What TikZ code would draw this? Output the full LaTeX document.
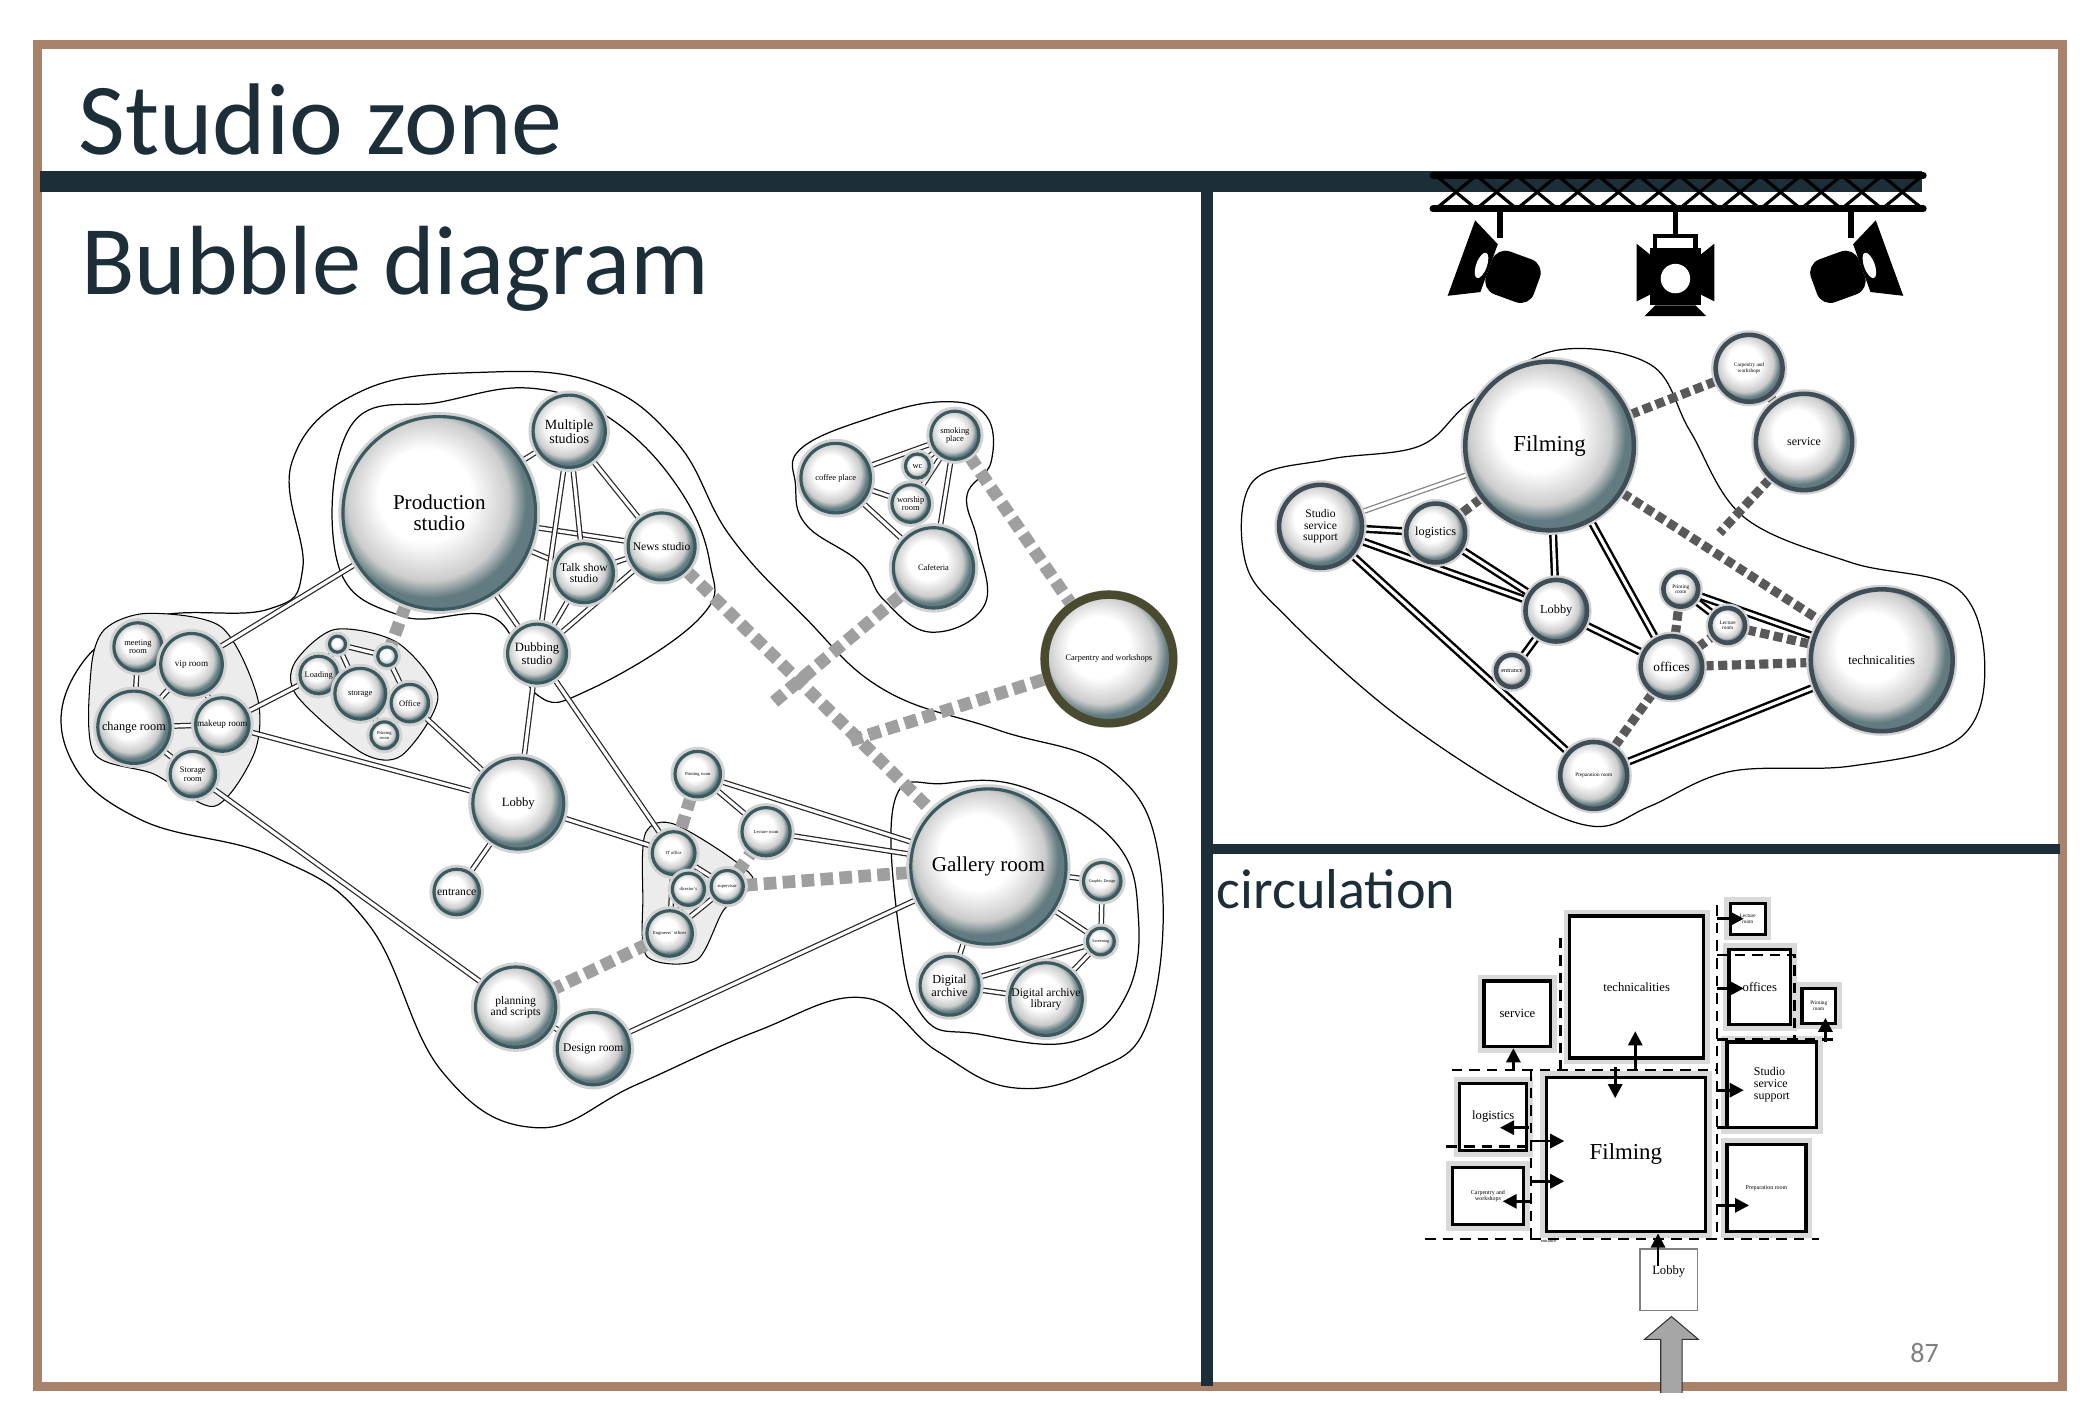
\documentclass[tikz,border=0pt]{standalone}
\usepackage{fontspec}
\setmainfont{Liberation Serif}
\newfontfamily\tit{Carlito}
\usetikzlibrary{backgrounds,arrows.meta}
\definecolor{frame}{HTML}{A8826A}
\definecolor{dk}{HTML}{1C2E38}
\definecolor{bord}{HTML}{3A5A60}
\definecolor{outc}{HTML}{8D9DA2}
\definecolor{olive}{HTML}{4A4A30}
\pgfdeclareradialshading{bubsh}{\pgfpoint{-5bp}{6bp}}{color(0bp)=(white); color(12bp)=(white); color(21bp)=(gray!40); color(25bp)=(bord!80); color(50bp)=(bord!80)}
\newcommand\fs[1]{\fontsize{#1}{#1}\selectfont}
% name, x, y, r, fontsize, text
\newcommand\bub[6]{\node[bub,minimum size={#4*0.02678cm},font=\fs{#5}] (#1) at (#2,#3) {#6};}
\newcommand\bubr[6]{\node[bubR,minimum size={#4*0.02678cm},font=\fs{#5}] (#1) at (#2,#3) {#6};}
\newcommand\spotside[3]{\begin{scope}[shift={(#1,#2)},rotate=#3]
 \fill[black,rounded corners=4] (-14,-17) rectangle (24,17);
 \fill[black] (-14,-19) -- (-36,-30) -- (-36,30) -- (-14,19) -- cycle;
 \fill[white] (-20,0) ellipse (4 and 10);
 \end{scope}}
\tikzset{
 bub/.style={circle,inner sep=0pt,align=center,draw=bord,line width=0.9pt,
   shading=bubsh,
   preaction={draw=gray!35,line width=2.6pt}},
 bubR/.style={bub,draw=dk!85,line width=1.3pt},
 dl/.style={draw=black!85,line width=0.35pt,double=white,double distance=0.9pt},
 dlR/.style={draw=black,line width=0.7pt,double=white,double distance=0.9pt},
 dsh/.style={draw=gray!75,line width=3.6pt,dash pattern=on 3.6pt off 1.8pt},
 dshR/.style={draw=black!65,line width=2.6pt,dash pattern=on 2.6pt off 1.3pt},
 cont/.style={draw=black,line width=0.35pt},
 bx/.style={draw=black,line width=0.9pt,fill=white,inner sep=0pt,align=center,
   preaction={draw=gray!30,line width=3.5pt}},
 dsl/.style={draw=black,line width=0.7pt,dash pattern=on 3pt off 2pt},
 ar/.style={-{Triangle[length=4pt,width=4pt]},line width=0.8pt},
}
\begin{document}
\begin{tikzpicture}[x=0.01339cm,y=-0.01339cm]
\useasboundingbox (0,0) rectangle (1568,1059);
\draw[frame,line width=2.6pt] (28,33) rectangle (1540,1035);
\node[anchor=base west,font=\tit\fs{29},text=dk,inner sep=0] (t1) at (58,115) {Studio zone};
\node[anchor=base west,font=\tit\fs{28},text=dk,inner sep=0] (t2) at (60,220) {Bubble diagram};
\node[anchor=base west,font=\tit\fs{16},text=dk,inner sep=0] (t3) at (908,678) {circulation};
\node[anchor=base,font=\tit\fs{8},text=gray,inner sep=0] (pg) at (1437,1017) {87};
\fill[dk] (30,128) rectangle (1435,143);
\fill[dk] (897,143) rectangle (906,1035);
\fill[dk] (906,630) rectangle (1538,638);
% truss
\foreach \i in {0,...,11}{\draw[black,line width=0.9pt] (1072+\i*30.3,131) -- (1102.3+\i*30.3,156) (1072+\i*30.3,156) -- (1102.3+\i*30.3,131);}
\draw[black,line width=2pt,line cap=round] (1070,131) -- (1436,131) (1070,156) -- (1436,156);
% lights
\foreach \x in {1120,1251,1382}{\draw[line width=1.6pt] (\x,156) -- (\x,178);}
\spotside{1125}{205}{-20}
\spotside{1377}{205}{200}
\fill[black] (1232,185) rectangle (1270,228);
\fill[black] (1232,190) -- (1222,182) -- (1222,225) -- (1232,220) -- cycle;
\fill[black] (1270,190) -- (1280,182) -- (1280,225) -- (1270,220) -- cycle;
\fill[black] (1236,228) -- (1228,236) -- (1274,236) -- (1266,228) -- cycle;
\draw[black,line width=1.2pt] (1236,186) -- (1236,176) -- (1266,176) -- (1266,186);
\fill[white] (1251,208) circle (11);

% ================= LEFT BUBBLES
\bub{prod}{328}{383}{72}{6}{Production\\studio}
\bub{mult}{425}{322}{27}{4}{Multiple\\studios}
\bub{news}{494}{408}{25}{3.3}{News studio}
\bub{talk}{436}{428}{22}{3.3}{Talk show\\studio}
\bub{dub}{401}{488}{22}{3.6}{Dubbing\\studio}
\bub{lobby}{387}{600}{34}{3.6}{Lobby}
\bub{ent}{341}{666}{17}{3.3}{entrance}
\bub{plan}{385}{752}{30}{3.3}{planning\\and scripts}
\bub{design}{443}{783}{27}{3.3}{Design room}
\bub{gal}{738}{647}{58}{6}{Gallery room}
\bub{graph}{823}{658}{14}{1.2}{Graphic Design}
\bub{scr}{822}{703}{10}{1.2}{Screening}
\bub{darch}{709}{736}{22}{3.5}{Digital\\archive}
\bub{dlib}{781}{746}{26}{3.3}{Digital archive\\library}
\bub{print}{521}{578}{17}{1.3}{Printing room}
\bub{lect}{572}{621}{18}{1.3}{Lecture room}
\bub{it}{503}{637}{16}{1.3}{IT office}
\bub{dir}{514}{664}{12}{1.3}{director's}
\bub{sup}{543}{662}{12}{1.3}{supervisor}
\bub{eng}{500}{697}{17}{1.3}{Engineers' offices}
\bub{coffee}{624}{357}{26}{2.4}{coffee place}
\bub{smoke}{713}{325}{18}{2.4}{smoking\\place}
\bub{wc}{685}{348}{9}{2.4}{wc}
\bub{wor}{680}{376}{14}{2.4}{worship\\room}
\bub{caf}{697}{424}{30}{2.4}{Cafeteria}
\node[bub,draw=olive,line width=2.4pt,minimum size={48*0.02678cm},font=\fs{2.4}] (carp) at (828,492) {Carpentry and workshops};
\bub{meet}{103}{483}{18}{2.4}{meeting\\room}
\bub{vip}{143}{496}{23}{2.6}{vip room}
\bub{chg}{100}{543}{27}{3.5}{change room}
\bub{mk}{166}{541}{20}{2.6}{makeup room}
\bub{stor}{144}{578}{17}{2.4}{Storage\\room}
\bub{load}{238}{504}{14}{2.4}{Loading}
\bub{sto}{269}{518}{19}{2.4}{storage}
\bub{off}{306}{525}{14}{2.4}{Office}
\bub{prs}{287}{549}{10}{1.3}{Printing\\room}
\bub{tA}{252}{481}{6}{1}{}
\bub{tB}{289}{490}{7}{1}{}

% ================= RIGHT BUBBLES
\bubr{film}{1157}{333}{63}{6.5}{Filming}
\bubr{serv}{1347}{330}{36}{3.4}{service}
\bubr{rcarp}{1306}{275}{25}{1.5}{Carpentry and\\workshops}
\bubr{ssup}{986}{393}{31}{3.3}{Studio\\service\\support}
\bubr{log}{1072}{398}{22}{3.5}{logistics}
\bubr{rlob}{1162}{456}{23}{3.5}{Lobby}
\bubr{rent}{1129}{501}{12}{1.8}{entrance}
\bubr{roff}{1248}{498}{23}{3.8}{offices}
\bubr{rprt}{1255}{440}{13}{1.5}{Printing\\room}
\bubr{rlec}{1290}{467}{13}{1.5}{Lecture\\room}
\bubr{tech}{1405}{493}{53}{3.6}{technicalities}
\bubr{prep}{1190}{579}{25}{1.5}{Preparation room}

\coordinate (cafE) at (578,524);
\coordinate (carpE) at (635,553);
\coordinate (servE) at (1284,398);

\begin{scope}[on background layer]
% contours
\draw[cont] plot[smooth cycle,tension=0.7] coordinates {(55,505) (110,462) (200,455) (226,425) (218,345) (270,292) (360,278) (445,286) (505,330) (545,400) (600,460) (660,515) (745,545) (830,575) (866,645) (858,760) (815,800) (755,812) (700,785) (645,745) (565,770) (475,810) (400,842) (330,800) (275,690) (205,640) (105,612) (52,565)};
\draw[cont] plot[smooth cycle,tension=0.7] coordinates {(262,318) (330,300) (398,290) (455,312) (505,362) (530,420) (522,462) (440,515) (400,518) (370,462) (300,460) (252,420)};
\draw[cont] plot[smooth cycle,tension=0.7] coordinates {(668,598) (705,585) (765,588) (832,628) (850,685) (840,745) (800,778) (730,772) (690,760) (672,700)};
\draw[cont] plot[smooth cycle,tension=0.7] coordinates {(598,335) (650,312) (703,300) (736,310) (740,345) (722,370) (730,405) (735,452) (695,472) (660,448) (642,420) (602,392) (594,362)};
\draw[cont] plot[smooth cycle,tension=0.6] coordinates {(935,360) (992,343) (1060,333) (1098,300) (1160,262) (1232,272) (1262,322) (1302,386) (1382,420) (1462,440) (1482,500) (1462,552) (1382,572) (1292,576) (1232,602) (1190,617) (1130,592) (1040,532) (962,462) (930,420)};
% halos around clusters
\filldraw[fill=gray!15,draw=black,line width=0.3pt] plot[smooth cycle] coordinates {(78,470) (110,458) (165,468) (192,520) (190,562) (160,602) (115,578) (70,562) (68,500)};
\filldraw[fill=gray!15,draw=black,line width=0.3pt] plot[smooth cycle] coordinates {(220,495) (250,470) (297,480) (327,520) (300,564) (270,562) (222,520)};
\filldraw[fill=gray!15,draw=black,line width=0.3pt] plot[smooth cycle] coordinates {(482,622) (505,616) (562,655) (540,680) (520,717) (483,714) (480,670)};
% left double lines
\foreach \a/\b in {prod/mult,prod/news,prod/talk,prod/dub,mult/talk,mult/dub,mult/news,talk/news,talk/dub,news/dub,
 vip/prod,mk/load,mk/lobby,stor/plan,lobby/dub,lobby/ent,lobby/it,off/lobby,dub/it,design/gal,print/gal,lect/gal,
 gal/graph,gal/scr,gal/darch,graph/scr,darch/dlib,darch/scr,dlib/scr,it/dir,it/sup,it/eng,dir/eng,sup/eng,dir/sup,
 print/lect,meet/vip,meet/chg,vip/chg,vip/mk,chg/mk,chg/stor,mk/stor,load/sto,sto/off,sto/prs,off/prs,tA/load,tA/tB,
 tB/off,tA/sto,plan/design,coffee/smoke,coffee/wor,coffee/caf,wc/smoke,wor/wc,wor/smoke,smoke/caf}
 {\draw[dl] (\a) -- (\b);}
% left dashed
\draw[dsh] (prod) -- (tB);
\draw[dsh] (news) -- (gal);
\draw[dsh] (cafE) -- (caf);
\draw[dsh] (smoke) -- (carp);
\draw[dsh] (carpE) -- (carp);
\draw[dsh] (sup) -- (gal);
\draw[dsh] (print) -- (it);
\draw[dsh] (eng) -- (plan);
\draw[dsh] (sup) -- (lect);
% right lines
\foreach \a/\b in {ssup/log,ssup/rlob,ssup/prep,log/rlob,film/rlob,film/roff,rlob/roff,rlob/rent,rprt/tech,rprt/rlec,tech/prep}
 {\draw[dlR] (\a) -- (\b);}
\draw[dl,draw=gray] (ssup) -- (film);
\draw[dshR] (film) -- (log);
\draw[dshR] (film) -- (tech);
\draw[dshR] (film) -- (rcarp);
\draw[dshR] (rcarp) -- (serv);
\draw[dshR] (serv) -- (servE);
\draw[dshR] (roff) -- (rprt);
\draw[dshR] (roff) -- (rlec);
\draw[dshR] (rlec) -- (tech);
\draw[dshR] (roff) -- (tech);
\draw[dshR] (roff) -- (prep);
\end{scope}

% ================= CIRCULATION
\node[bx,minimum width={100*0.01339cm},minimum height={106*0.01339cm},font=\fs{3.6}] (ctech) at (1222,737) {technicalities};
\node[bx,minimum width={50*0.01339cm},minimum height={49*0.01339cm},font=\fs{3.6}] (cserv) at (1133,757) {service};
\node[bx,minimum width={46*0.01339cm},minimum height={56*0.01339cm},font=\fs{3.6}] (coff) at (1314,737) {offices};
\node[bx,minimum width={26*0.01339cm},minimum height={23*0.01339cm},font=\fs{1.5}] (clec) at (1305,686) {Lecture\\room};
\node[bx,minimum width={25*0.01339cm},minimum height={26*0.01339cm},font=\fs{1.5}] (cprt) at (1358,751) {Printing\\room};
\node[bx,minimum width={67*0.01339cm},minimum height={64*0.01339cm},font=\fs{3.4},align=left] (cssup) at (1323,810) {Studio\\service\\support};
\node[bx,minimum width={50*0.01339cm},minimum height={50*0.01339cm},font=\fs{3.6}] (clog) at (1115,834) {logistics};
\node[bx,minimum width={119*0.01339cm},minimum height={115*0.01339cm},font=\fs{6.5}] (cfilm) at (1214,862) {Filming};
\node[bx,minimum width={53*0.01339cm},minimum height={43*0.01339cm},font=\fs{1.7}] (ccarp) at (1111,893) {Carpentry and\\workshops};
\node[bx,minimum width={59*0.01339cm},minimum height={65*0.01339cm},font=\fs{1.7}] (cprep) at (1319,887) {Preparation room};
\node[draw=gray,line width=0.4pt,fill=white,minimum width={43*0.01339cm},minimum height={46*0.01339cm},inner sep=0,font=\fs{3.6},anchor=north] (clob) at (1246,932) {};
\node[font=\fs{3.6},inner sep=0] (clobt) at (1246,949) {Lobby};
\node[font=\fs{1.3},inner sep=0,anchor=west] (centr) at (1150,927) {entrance};
% dashed zone lines
\draw[dsl] (1084,799) -- (1283,799);
\draw[dsl] (1143,799) -- (1143,925);
\draw[dsl] (1064,925) -- (1358,925);
\draw[dsl] (1282,676) -- (1282,925);
\draw[dsl] (1165,700) -- (1165,799);
\draw[dsl] (1080,856) -- (1143,856);
\draw[dsl] (1282,713) -- (1340,713) -- (1340,776);
\draw[dsl] (1282,776) -- (1373,776);
\draw[dsl] (1282,842) -- (1357,842);
% arrows
\coordinate (a1) at (1130,799); \draw[ar] (a1) -- (cserv.south -| a1);
\coordinate (a2) at (1221,799); \draw[ar] (a2) -- (1221,770);
\coordinate (a3) at (1206,797); \draw[ar] (a3) -- (1206,820);
\coordinate (a4) at (1142,842); \draw[ar] (a4) -- (1120,842);
\coordinate (a5) at (1143,852); \draw[ar] (a5) -- (1168,852);
\coordinate (a6) at (1143,882); \draw[ar] (a6) -- (1168,882);
\coordinate (a7) at (1143,897); \draw[ar] (a7) -- (1122,897);
\coordinate (a8) at (1238,945); \draw[ar] (a8) -- (1238,921);
\coordinate (a9) at (1282,814); \draw[ar] (a9) -- (1302,814);
\coordinate (a10) at (1282,738); \draw[ar] (a10) -- (1302,738);
\coordinate (a11) at (1282,686); \draw[ar] (a11) -- (1302,686);
\coordinate (a12) at (1363,778); \draw[ar] (a12) -- (1363,760);
\coordinate (a13) at (1282,900); \draw[ar] (a13) -- (1306,900);
% grey entrance arrow
\fill[gray!70] (1240,1040) -- (1240,1000) -- (1228,1000) -- (1248,983) -- (1268,1000) -- (1256,1000) -- (1256,1040) -- cycle;
\draw[gray!40!black,line width=0.3pt] (1240,1040) -- (1240,1000) -- (1228,1000) -- (1248,983) -- (1268,1000) -- (1256,1000) -- (1256,1040);
\end{tikzpicture}
\end{document}
